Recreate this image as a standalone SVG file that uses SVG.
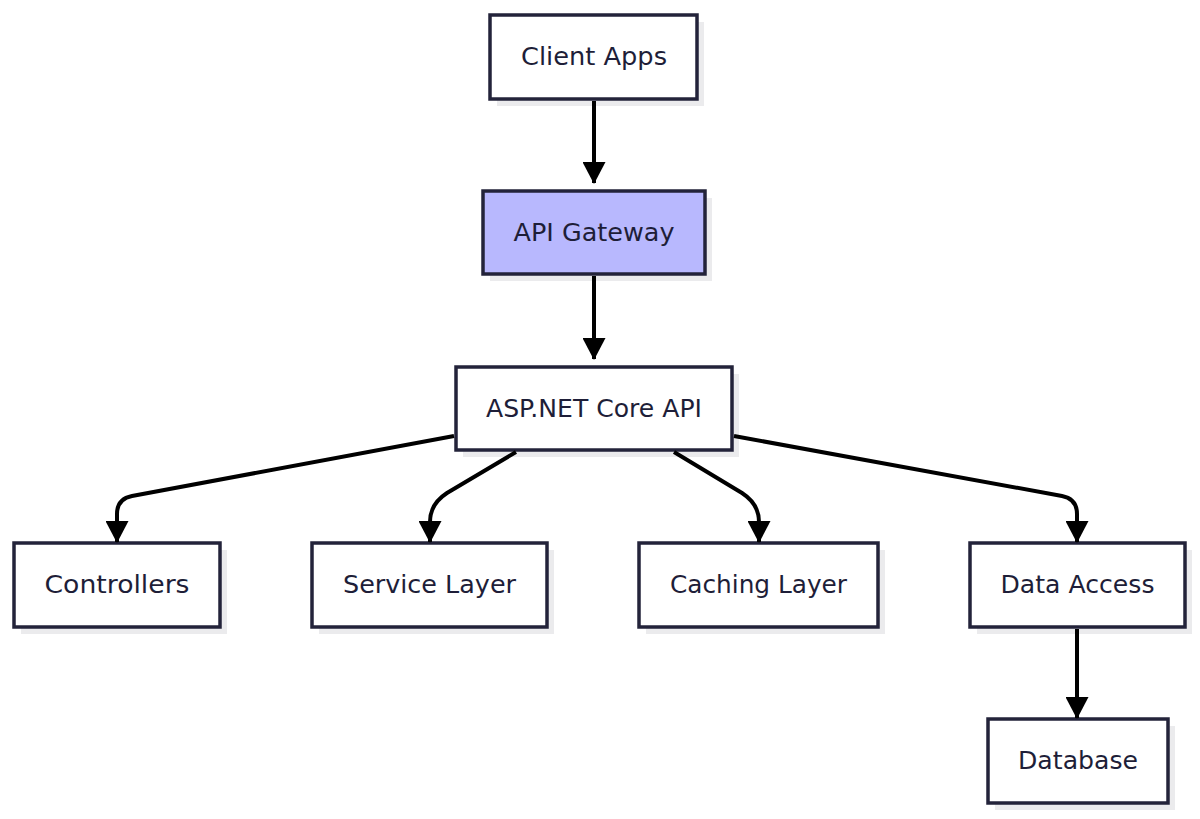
<svg xmlns="http://www.w3.org/2000/svg" width="1200" height="819" viewBox="0 0 1200 819">
<defs>
<style>
.box{fill:#ffffff;stroke:#23233a;stroke-width:3.5}
.hl{fill:#b8b8fe}
.sh{fill:#ebebed}
.lbl{font-family:"DejaVu Sans","Liberation Sans",sans-serif;font-size:24px;fill:#1e1e38;text-anchor:middle;dominant-baseline:central}
.edge{fill:none;stroke:#000;stroke-width:4}
</style>
<marker id="arr" markerWidth="22" markerHeight="23" refX="21" refY="11.5" orient="auto" markerUnits="userSpaceOnUse" viewBox="0 0 22 23">
<path d="M0,0 L22,11.5 L0,23 Z" fill="#000"/>
</marker>
</defs>
<rect width="1200" height="819" fill="#ffffff"/>
<g id="client-apps">
<rect class="sh" x="497" y="22" width="207" height="84"/>
<rect class="box" x="490" y="15" width="207" height="84"/>
<text class="lbl" x="594" y="57" textLength="146" lengthAdjust="spacingAndGlyphs">Client Apps</text>
</g>
<g id="api-gateway">
<rect class="sh" x="490" y="198" width="222" height="83"/>
<rect class="box hl" x="483" y="191" width="222" height="83"/>
<text class="lbl" x="594" y="233" textLength="161" lengthAdjust="spacingAndGlyphs">API Gateway</text>
</g>
<g id="aspnet-core-api">
<rect class="sh" x="463" y="374" width="276" height="83"/>
<rect class="box" x="456" y="367" width="276" height="83"/>
<text class="lbl" x="594" y="409" textLength="216" lengthAdjust="spacingAndGlyphs">ASP.NET Core API</text>
</g>
<g id="controllers">
<rect class="sh" x="21" y="550" width="206" height="84"/>
<rect class="box" x="14" y="543" width="206" height="84"/>
<text class="lbl" x="117" y="585" textLength="145" lengthAdjust="spacingAndGlyphs">Controllers</text>
</g>
<g id="service-layer">
<rect class="sh" x="319" y="550" width="235" height="84"/>
<rect class="box" x="312" y="543" width="235" height="84"/>
<text class="lbl" x="429.5" y="585" textLength="173" lengthAdjust="spacingAndGlyphs">Service Layer</text>
</g>
<g id="caching-layer">
<rect class="sh" x="646" y="550" width="239" height="84"/>
<rect class="box" x="639" y="543" width="239" height="84"/>
<text class="lbl" x="758.5" y="585" textLength="177" lengthAdjust="spacingAndGlyphs">Caching Layer</text>
</g>
<g id="data-access">
<rect class="sh" x="977" y="550" width="215" height="84"/>
<rect class="box" x="970" y="543" width="215" height="84"/>
<text class="lbl" x="1077.5" y="585" textLength="154" lengthAdjust="spacingAndGlyphs">Data Access</text>
</g>
<g id="database">
<rect class="sh" x="995" y="726" width="180" height="84"/>
<rect class="box" x="988" y="719" width="180" height="84"/>
<text class="lbl" x="1078" y="761" textLength="120" lengthAdjust="spacingAndGlyphs">Database</text>
</g>
<g id="connectors">
<path class="edge" d="M594,101 L594,183" marker-end="url(#arr)"/>
<path class="edge" d="M594,276 L594,359" marker-end="url(#arr)"/>
<path class="edge" d="M454,436 L132,496 Q117,499 117,514 L117,542" marker-end="url(#arr)"/>
<path class="edge" d="M516,452 L447,493 Q430,504 430,522 L430,542" marker-end="url(#arr)"/>
<path class="edge" d="M674,452 L742,493 Q759,504 759,522 L759,542" marker-end="url(#arr)"/>
<path class="edge" d="M734,436 L1062,496 Q1077,499 1077,514 L1077,542" marker-end="url(#arr)"/>
<path class="edge" d="M1077,629 L1077,718" marker-end="url(#arr)"/>
</g>
</svg>
